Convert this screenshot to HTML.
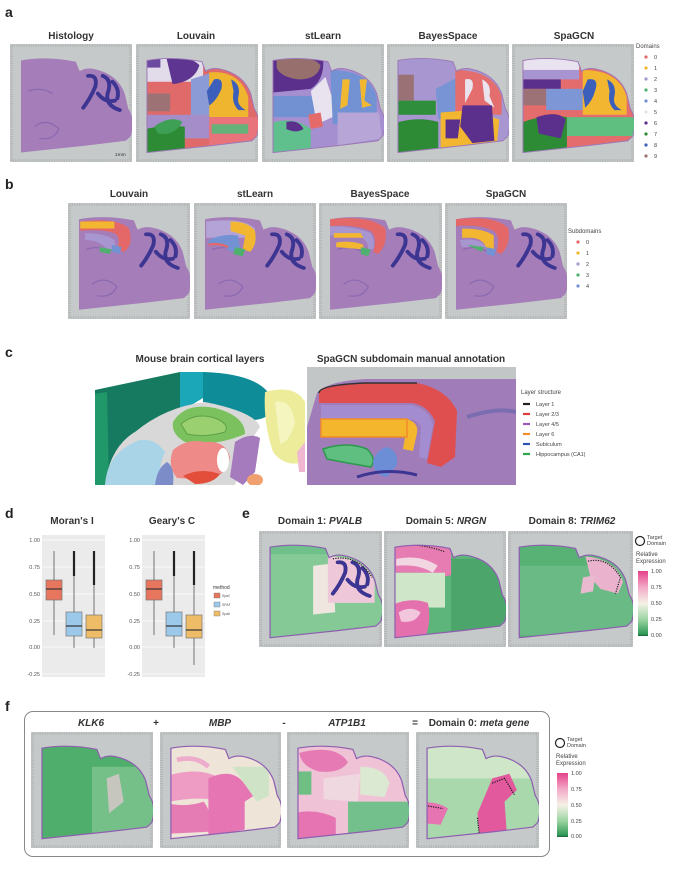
<!DOCTYPE html><html><head><meta charset="utf-8"><style>
body{margin:0;width:673px;height:871px;background:#fff;position:relative;overflow:hidden;font-family:"Liberation Sans",sans-serif;color:#222}
.a{position:absolute}
.L{position:absolute;font-weight:bold;font-size:14px}
.t{position:absolute;font-weight:bold;font-size:10px;transform:translateX(-50%);white-space:nowrap;color:#333}
.s{position:absolute;font-size:5.5px;color:#444;white-space:nowrap}
svg.p{position:absolute}
</style></head><body>
<svg width="0" height="0" style="position:absolute"><defs>
<path id="bp" d="M9 14 Q30 10 54 15 L57 23 Q62 20 68 21 Q88 25 94 42 L97 55 Q103 64 99 78 L95 82 L63 86 L9 92 Z"/>
<clipPath id="br" clipPathUnits="userSpaceOnUse"><use href="#bp"/></clipPath>
<g id="cb" fill="none" stroke="#3d3592" stroke-width="3.2" stroke-linecap="round"><path d="M64 27 Q72 26 70 36 Q66 46 60 54"/><path d="M76 27 Q84 30 80 42 Q78 52 90 56"/><path d="M72 42 Q78 50 86 48"/><path d="M84 32 Q90 38 88 46"/></g>
<g id="cbl" fill="none" stroke="#4a3d9a" stroke-width="1.6" stroke-linecap="round"><path d="M64 27 Q72 26 70 36 Q66 46 60 54"/><path d="M76 27 Q84 30 80 42 Q78 52 90 56"/><path d="M72 42 Q78 50 86 48"/></g>
<g id="bg"><rect width="100" height="100" fill="#c6c9c9"/><rect x="1" y="1" width="98" height="98" fill="none" stroke="#b4b7b7" stroke-width="3" stroke-dasharray="1 1"/></g>
<g id="hist"><use href="#bp" fill="#a47db9"/><path d="M15 40 Q25 36 35 42 M20 70 Q30 62 40 72 Q36 82 24 80" fill="none" stroke="#8a68b0" stroke-width="1"/><use href="#cb"/></g>
</defs></svg>

<!-- a -->
<div class="L" style="left:5px;top:4px">a</div>
<div class="t" style="left:71px;top:31px">Histology</div>
<div class="t" style="left:196px;top:31px">Louvain</div>
<div class="t" style="left:323px;top:31px">stLearn</div>
<div class="t" style="left:448px;top:31px">BayesSpace</div>
<div class="t" style="left:574px;top:31px">SpaGCN</div>

<svg class="p" style="left:10px;top:44px" width="122" height="118" viewBox="0 0 100 100" preserveAspectRatio="none"><use href="#bg"/><use href="#hist"/><text x="86" y="95" font-size="4" fill="#333">1mm</text></svg>

<svg class="p" style="left:136px;top:44px" width="122" height="118" viewBox="0 0 100 100" preserveAspectRatio="none"><use href="#bg"/><g clip-path="url(#br)"><rect width="100" height="100" fill="#e06a6a"/><rect x="0" y="0" width="55" height="32" fill="#e2dcea"/><path d="M25 12 Q45 10 52 18 Q48 32 30 34 Z" fill="#5e3590"/><rect x="0" y="12" width="20" height="8" fill="#6c4aa0"/><rect x="0" y="42" width="28" height="15" fill="#9c7275"/><path d="M45 30 L60 25 L65 70 L45 60 Z" fill="#8b9bd6"/><rect x="0" y="60" width="60" height="20" fill="#a48dc8"/><path d="M0 74 Q20 68 40 70 L40 100 L0 100 Z" fill="#2d8a35"/><path d="M15 70 Q28 60 38 66 Q32 78 18 76Z" fill="#3da055"/><path d="M60 24 Q85 22 92 45 L92 62 L60 62 Z" fill="#f0b52e"/><path d="M64 30 Q72 28 70 38 Q66 48 60 52 L58 40 Z" fill="#3c5fbb"/><path d="M78 30 Q86 34 84 44 Q82 52 90 56 L84 56 Q78 50 80 40Z" fill="#3c5fbb"/><rect x="60" y="62" width="40" height="25" fill="#e8737a"/><rect x="62" y="68" width="30" height="8" fill="#66b07a"/></g><use href="#bp" fill="none" stroke="#9c78b8" stroke-width=".8"/></svg>

<svg class="p" style="left:262px;top:44px" width="122" height="118" viewBox="0 0 100 100" preserveAspectRatio="none"><use href="#bg"/><g clip-path="url(#br)"><rect width="100" height="100" fill="#a68fd0"/><path d="M0 10 L50 10 Q52 30 40 38 L0 42 Z" fill="#5b2f8c"/><path d="M12 12 Q40 8 48 18 Q46 30 30 30 Q15 28 12 20Z" fill="#97706e"/><rect x="0" y="44" width="45" height="18" fill="#7191d2"/><path d="M40 40 L52 28 L62 60 L45 68 Z" fill="#e8e3ee"/><path d="M56 22 Q88 22 94 45 L94 68 L58 68 Z" fill="#7292d4"/><path d="M66 30 L72 30 L70 52 L64 55Z M80 30 L86 30 L84 48 L90 52 L82 54 Z" fill="#f2b831"/><path d="M62 58 L96 58 L98 80 L62 86Z" fill="#b7a5d8"/><path d="M38 60 L48 58 L50 70 L40 72Z" fill="#e56a6a"/><path d="M5 68 Q25 60 40 72 L40 100 L0 100 Z" fill="#5fc08e"/><path d="M20 66 Q30 64 34 72 Q28 76 20 72Z" fill="#5b2f8c"/><rect x="0" y="60" width="8" height="40" fill="#2c8a34"/></g><use href="#bp" fill="none" stroke="#9c78b8" stroke-width=".8"/></svg>

<svg class="p" style="left:387px;top:44px" width="122" height="118" viewBox="0 0 100 100" preserveAspectRatio="none"><use href="#bg"/><g clip-path="url(#br)"><rect width="100" height="100" fill="#a896d0"/><rect x="0" y="26" width="22" height="22" fill="#9a7276"/><rect x="0" y="48" width="40" height="12" fill="#2f8e3c"/><path d="M40 38 L58 28 L60 60 L42 64Z" fill="#7894d4"/><path d="M56 22 Q88 22 94 45 L94 60 L56 60Z" fill="#e46d6d"/><path d="M64 30 Q72 28 70 38 L64 50 Z M78 30 Q86 34 84 44 L88 54 L80 48 Z" fill="#e9e4ee"/><path d="M0 70 Q20 60 42 66 L42 100 L0 100Z" fill="#2d8a35"/><path d="M44 58 L70 56 L92 64 L90 86 L44 90Z" fill="#f2b631"/><path d="M62 52 L86 52 L88 82 L70 84 L60 70Z" fill="#5b2f8c"/><path d="M48 64 L60 64 L58 80 L48 80Z" fill="#5b2f8c"/></g><use href="#bp" fill="none" stroke="#9c78b8" stroke-width=".8"/></svg>

<svg class="p" style="left:512px;top:44px" width="122" height="118" viewBox="0 0 100 100" preserveAspectRatio="none"><use href="#bg"/><g clip-path="url(#br)"><rect width="100" height="100" fill="#e56c6c"/><rect x="0" y="0" width="55" height="22" fill="#e8e3ee"/><rect x="0" y="22" width="55" height="8" fill="#a894d0"/><rect x="0" y="30" width="40" height="8" fill="#5b2f8c"/><rect x="0" y="38" width="28" height="14" fill="#9c7276"/><rect x="28" y="38" width="30" height="18" fill="#7c96d6"/><path d="M58 22 Q88 22 94 45 L94 60 L58 60Z" fill="#f2b631"/><path d="M62 30 Q72 28 68 40 Q66 48 60 54 L58 40Z M78 30 Q86 34 84 44 Q82 52 90 56 L84 56 Q78 50 80 40Z" fill="#3c5fbb"/><rect x="45" y="62" width="55" height="16" fill="#5fbf80"/><path d="M0 70 Q25 58 45 62 L45 100 L0 100Z" fill="#2d8a35"/><path d="M20 62 Q38 56 44 64 L40 80 L22 76Z" fill="#5b2f8c"/></g><use href="#bp" fill="none" stroke="#9c78b8" stroke-width=".8"/></svg>

<div class="s" style="left:636px;top:44px;font-size:6px">Domains</div>
<svg class="a" style="left:642px;top:53px" width="25" height="110">
<g font-size="5.5" fill="#444" font-family="Liberation Sans">
<circle cx="4" cy="4" r="1.6" fill="#e46868"/><text x="12" y="6">0</text>
<circle cx="4" cy="15" r="1.6" fill="#f2b631"/><text x="12" y="17">1</text>
<circle cx="4" cy="26" r="1.6" fill="#a896d0"/><text x="12" y="28">2</text>
<circle cx="4" cy="37" r="1.6" fill="#4fb070"/><text x="12" y="39">3</text>
<circle cx="4" cy="48" r="1.6" fill="#7292d4"/><text x="12" y="50">4</text>
<circle cx="4" cy="59" r="1.6" fill="#e6e1ec"/><text x="12" y="61">5</text>
<circle cx="4" cy="70" r="1.6" fill="#5b2f8c"/><text x="12" y="72">6</text>
<circle cx="4" cy="81" r="1.6" fill="#2d8a35"/><text x="12" y="83">7</text>
<circle cx="4" cy="92" r="1.6" fill="#3c5fbb"/><text x="12" y="94">8</text>
<circle cx="4" cy="103" r="1.6" fill="#9c7276"/><text x="12" y="105">9</text></g></svg>

<!-- b -->
<div class="L" style="left:5px;top:176px">b</div>
<div class="t" style="left:129px;top:189px">Louvain</div>
<div class="t" style="left:255px;top:189px">stLearn</div>
<div class="t" style="left:380px;top:189px">BayesSpace</div>
<div class="t" style="left:506px;top:189px">SpaGCN</div>
<svg class="p" style="left:68px;top:203px" width="122" height="116" viewBox="0 0 100 100" preserveAspectRatio="none"><use href="#bg"/><use href="#hist"/><path d="M10 16 Q40 12 50 22 Q54 36 46 42 L40 40 Q44 30 38 26 Q26 22 10 24Z" fill="#e46868"/><path d="M10 16 L38 16 L38 22 L10 22Z" fill="#f2b631"/><path d="M14 26 Q30 26 38 32 L40 42 L32 40 Q26 32 14 32Z" fill="#a896d0"/><path d="M26 38 L36 40 L34 44 L26 42Z" fill="#4fb070"/><path d="M36 36 L44 38 L42 44 L36 42Z" fill="#7292d4"/></svg>
<svg class="p" style="left:194px;top:203px" width="122" height="116" viewBox="0 0 100 100" preserveAspectRatio="none"><use href="#bg"/><use href="#hist"/><path d="M10 16 Q40 12 50 22 L50 30 L10 30Z" fill="#b3a3d6"/><path d="M30 16 Q44 16 50 24 Q52 36 46 42 L40 40 L42 28 L30 24Z" fill="#f2b631"/><path d="M12 32 Q24 26 36 28 L38 40 L30 42 Q22 34 12 36Z" fill="#7292d4"/><path d="M12 36 Q20 34 28 38" stroke="#e46868" stroke-width="2" fill="none"/><path d="M34 38 L42 40 L40 46 L32 44Z" fill="#4fb070"/></svg>
<svg class="p" style="left:319px;top:203px" width="123" height="116" viewBox="0 0 100 100" preserveAspectRatio="none"><use href="#bg"/><use href="#hist"/><path d="M9 14 Q42 10 54 22 Q56 36 48 44 L44 42 Q48 30 42 24 Q28 18 9 20Z" fill="#e46868"/><path d="M9 20 Q30 20 42 26 Q46 32 44 40 L40 40 Q40 30 30 28 L9 28Z" fill="#a896d0"/><path d="M12 26 L34 26 L36 30 L12 30Z M14 34 Q26 32 36 36 L36 40 L14 38Z" fill="#f2b631"/><path d="M34 38 L42 40 L40 46 L34 44Z" fill="#4fb070"/></svg>
<svg class="p" style="left:445px;top:203px" width="122" height="116" viewBox="0 0 100 100" preserveAspectRatio="none"><use href="#bg"/><use href="#hist"/><path d="M9 14 Q42 10 52 22 Q54 36 46 44 L42 42 Q46 30 40 24 Q28 18 9 20Z" fill="#e46868"/><path d="M14 22 Q32 22 40 28 L40 40 L34 40 Q32 30 20 30 L14 30Z" fill="#f2b631"/><path d="M12 32 Q22 30 30 34 L34 38 L14 38Z" fill="#a896d0"/><path d="M18 36 L32 38 L30 42 Z" fill="#4fb070"/><path d="M34 38 L42 40 L40 46 L34 44Z" fill="#7292d4"/></svg>
<div class="s" style="left:568px;top:229px;font-size:6px">Subdomains</div>
<svg class="a" style="left:574px;top:238px" width="25" height="55"><g font-size="5.5" fill="#444" font-family="Liberation Sans">
<circle cx="4" cy="4" r="1.6" fill="#e46868"/><text x="12" y="6">0</text>
<circle cx="4" cy="15" r="1.6" fill="#f2b631"/><text x="12" y="17">1</text>
<circle cx="4" cy="26" r="1.6" fill="#a896d0"/><text x="12" y="28">2</text>
<circle cx="4" cy="37" r="1.6" fill="#4fb070"/><text x="12" y="39">3</text>
<circle cx="4" cy="48" r="1.6" fill="#7292d4"/><text x="12" y="50">4</text></g></svg>

<!-- c -->
<div class="L" style="left:5px;top:344px">c</div>
<div class="t" style="left:200px;top:354px">Mouse brain cortical layers</div>
<div class="t" style="left:411px;top:354px">SpaGCN subdomain manual annotation</div>
<svg class="p" style="left:95px;top:372px" width="210" height="113" viewBox="0 0 210 113">
<rect width="210" height="113" fill="#fff"/>
<path d="M0 18 L85 0 L85 40 L40 60 Q15 75 10 113 L0 113Z" fill="#167a60"/>
<path d="M0 22 L12 20 L14 113 L0 113Z" fill="#21986a"/>
<path d="M85 0 L108 0 L108 26 L85 40Z" fill="#1ba7b8"/>
<path d="M108 0 Q170 2 178 30 Q178 50 150 48 L108 30Z" fill="#0e8c98"/>
<path d="M40 60 Q70 35 110 30 Q160 40 165 55 Q150 75 140 113 L10 113 Q15 75 40 60Z" fill="#d8d8d8"/>
<path d="M10 113 Q12 80 45 68 Q60 66 70 80 Q60 100 72 113Z" fill="#a9d3e6"/>
<path d="M78 50 Q90 30 120 36 Q150 44 150 62 Q120 75 90 70 Q76 62 78 50Z" fill="#7bc25e"/>
<path d="M86 52 Q100 40 120 46 Q135 52 130 60 Q110 66 92 62Z" fill="#9ad070" stroke="#5da048" stroke-width="1"/>
<path d="M78 78 Q92 66 110 70 Q130 68 135 85 Q132 105 110 108 L82 106 Q72 94 78 78Z" fill="#ee8a88"/>
<path d="M88 104 Q105 95 125 102 Q118 112 100 112Z" fill="#e24e3a"/>
<path d="M72 90 Q80 95 78 113 L60 113 Q62 96 72 90Z" fill="#7b8cc8"/>
<path d="M140 70 Q155 60 165 66 L160 100 L148 113 L135 105Z" fill="#a67bbd"/>
<path d="M170 20 Q200 12 210 30 L210 90 Q190 96 178 80 Q168 50 170 20Z" fill="#ecec9a"/>
<path d="M180 30 Q196 26 200 50 Q195 70 185 72Z" fill="#f5f5c0"/>
<path d="M202 80 L210 70 L210 100 L204 100Z" fill="#f0b8d0"/>
<ellipse cx="160" cy="108" rx="8" ry="6" fill="#f1a070"/>
<ellipse cx="128" cy="88" rx="6" ry="12" fill="#fff"/>
</svg>
<svg class="p" style="left:307px;top:367px" width="209" height="118" viewBox="0 0 209 118">
<rect width="209" height="118" fill="#c3c6c6"/>
<path d="M10 26 Q20 14 60 12 L209 12 L209 118 L0 118 L0 60 Z" fill="#a07cb8"/>
<path d="M160 50 Q190 40 209 45" fill="none" stroke="#7a6db0" stroke-width="4"/>
<path d="M100 40 L140 36 L160 50 Q158 80 145 95 L140 118" fill="none" stroke="#d24d54" stroke-width="0"/>
<path d="M12 26 Q12 18 58 16 L110 16 Q140 22 150 44 L148 90 L134 100 L120 96 L128 54 Q120 38 105 36 L12 36Z" fill="#e04f50"/>
<path d="M14 38 L104 38 Q122 42 126 58 L120 92 L112 90 L114 60 Q110 52 100 52 L14 52Z" fill="#a48cd0"/>
<path d="M14 52 L100 52 Q112 56 110 66 L106 84 L96 82 L98 70 L14 70Z" fill="#f3b62d"/>
<path d="M14 52 L100 52 L100 70 L14 70Z" fill="none" stroke="#f28c2c" stroke-width="1.5"/>
<path d="M16 82 Q40 74 60 82 Q70 92 64 100 Q40 96 20 92Z" fill="#5fbf80" stroke="#2c9a4d" stroke-width="1.5"/>
<path d="M66 94 Q70 82 80 80 Q92 84 90 98 L80 110 Q66 108 66 94Z" fill="#6c8ed6"/>
<path d="M12 26 Q12 18 58 16 L110 16" fill="none" stroke="#333" stroke-width="1.5"/>
<path d="M50 110 Q80 100 110 108" fill="none" stroke="#3d3592" stroke-width="3"/>
</svg>
<div class="s" style="left:521px;top:390px;font-size:6px">Layer structure</div>
<svg class="a" style="left:522px;top:399px" width="80" height="62"><g font-size="5.5" fill="#444" font-family="Liberation Sans" stroke-width="2.2">
<line x1="1" y1="5" x2="8" y2="5" stroke="#222"/><text x="14" y="7">Layer 1</text>
<line x1="1" y1="15" x2="8" y2="15" stroke="#e13a3a"/><text x="14" y="17">Layer 2/3</text>
<line x1="1" y1="25" x2="8" y2="25" stroke="#9b59c0"/><text x="14" y="27">Layer 4/5</text>
<line x1="1" y1="35" x2="8" y2="35" stroke="#f28c2c"/><text x="14" y="37">Layer 6</text>
<line x1="1" y1="45" x2="8" y2="45" stroke="#2e52b8"/><text x="14" y="47">Subiculum</text>
<line x1="1" y1="55" x2="8" y2="55" stroke="#2aa84a"/><text x="14" y="57">Hippocampus (CA1)</text></g></svg>

<!-- d -->
<div class="L" style="left:5px;top:505px">d</div>
<div class="t" style="left:72px;top:516px">Moran's I</div>
<div class="t" style="left:172px;top:516px">Geary's C</div>
<svg class="a" style="left:20px;top:530px" width="210" height="150"><g font-family="Liberation Sans" font-size="5.5" fill="#555">
<rect x="22" y="5" width="63" height="142" fill="#ebebeb"/>
<rect x="122" y="5" width="63" height="142" fill="#ebebeb"/>
<g stroke="#fff" stroke-width=".8"><line x1="22" y1="10" x2="85" y2="10"/><line x1="22" y1="37" x2="85" y2="37"/><line x1="22" y1="64" x2="85" y2="64"/><line x1="22" y1="91" x2="85" y2="91"/><line x1="22" y1="117" x2="85" y2="117"/><line x1="22" y1="144" x2="85" y2="144"/>
<line x1="122" y1="10" x2="185" y2="10"/><line x1="122" y1="37" x2="185" y2="37"/><line x1="122" y1="64" x2="185" y2="64"/><line x1="122" y1="91" x2="185" y2="91"/><line x1="122" y1="117" x2="185" y2="117"/><line x1="122" y1="144" x2="185" y2="144"/></g>
<text x="20" y="12" text-anchor="end">1.00</text><text x="20" y="39" text-anchor="end">0.75</text><text x="20" y="66" text-anchor="end">0.50</text><text x="20" y="93" text-anchor="end">0.25</text><text x="20" y="119" text-anchor="end">0.00</text><text x="20" y="146" text-anchor="end">-0.25</text>
<text x="120" y="12" text-anchor="end">1.00</text><text x="120" y="39" text-anchor="end">0.75</text><text x="120" y="66" text-anchor="end">0.50</text><text x="120" y="93" text-anchor="end">0.25</text><text x="120" y="119" text-anchor="end">0.00</text><text x="120" y="146" text-anchor="end">-0.25</text>
<g stroke="#555" stroke-width=".8"><line x1="34" y1="21" x2="34" y2="105"/><line x1="54" y1="21" x2="54" y2="118"/><line x1="74" y1="21" x2="74" y2="118"/><line x1="134" y1="21" x2="134" y2="105"/><line x1="154" y1="21" x2="154" y2="118"/><line x1="174" y1="21" x2="174" y2="135"/></g>
<g stroke="#222" stroke-width="2.2"><line x1="54" y1="21" x2="54" y2="46"/><line x1="74" y1="21" x2="74" y2="55"/><line x1="154" y1="21" x2="154" y2="46"/><line x1="174" y1="21" x2="174" y2="55"/></g>
<g stroke="#777" stroke-width=".7">
<rect x="26" y="50" width="16" height="20" fill="#e8765e"/><line x1="26" y1="59" x2="42" y2="59" stroke="#333" stroke-width="1.2"/>
<rect x="46" y="82" width="16" height="24" fill="#9cc8ea"/><line x1="46" y1="96" x2="62" y2="96" stroke="#333" stroke-width="1.2"/>
<rect x="66" y="85" width="16" height="23" fill="#eebb66"/><line x1="66" y1="100" x2="82" y2="100" stroke="#333" stroke-width="1.2"/>
<rect x="126" y="50" width="16" height="20" fill="#e8765e"/><line x1="126" y1="59" x2="142" y2="59" stroke="#333" stroke-width="1.2"/>
<rect x="146" y="82" width="16" height="24" fill="#9cc8ea"/><line x1="146" y1="96" x2="162" y2="96" stroke="#333" stroke-width="1.2"/>
<rect x="166" y="85" width="16" height="23" fill="#eebb66"/><line x1="166" y1="100" x2="182" y2="100" stroke="#333" stroke-width="1.2"/></g>
<text x="193" y="59" fill="#333" font-size="5">method</text>
<rect x="194" y="63" width="6" height="5" fill="#e8765e" stroke="#777" stroke-width=".4"/><text x="202" y="67" font-size="3.5">SpaGCN</text>
<rect x="194" y="72" width="6" height="5" fill="#9cc8ea" stroke="#777" stroke-width=".4"/><text x="202" y="76" font-size="3.5">SPARK</text>
<rect x="194" y="81" width="6" height="5" fill="#eebb66" stroke="#777" stroke-width=".4"/><text x="202" y="85" font-size="3.5">SpatialDE</text>
</g></svg>

<!-- e -->
<div class="L" style="left:242px;top:505px">e</div>
<div class="t" style="left:320px;top:516px">Domain 1: <i>PVALB</i></div>
<div class="t" style="left:446px;top:516px">Domain 5: <i>NRGN</i></div>
<div class="t" style="left:572px;top:516px">Domain 8: <i>TRIM62</i></div>
<svg class="p" style="left:259px;top:531px" width="123" height="116" viewBox="0 0 100 100" preserveAspectRatio="none"><use href="#bg"/><g clip-path="url(#br)"><rect width="100" height="100" fill="#6fc08a"/><rect x="0" y="20" width="100" height="80" fill="#93cf9f" opacity=".6"/><path d="M44 30 L60 28 L62 70 L44 72Z" fill="#efe6df"/><path d="M56 22 Q88 22 94 45 L94 62 L56 62Z" fill="#eec8d8"/><use href="#cb" style="stroke:#d94f93"/><path d="M60 24 Q80 20 92 40" fill="none" stroke="#222" stroke-width="1" stroke-dasharray="1 1"/></g><use href="#bp" fill="none" stroke="#8e5eb0" stroke-width="1"/></svg>
<svg class="p" style="left:384px;top:531px" width="122" height="116" viewBox="0 0 100 100" preserveAspectRatio="none"><use href="#bg"/><g clip-path="url(#br)"><rect width="100" height="100" fill="#5db57b"/><path d="M0 10 L55 10 L55 38 Q40 42 30 36 L0 36Z" fill="#e67cb2"/><path d="M10 24 Q30 20 44 30 L40 36 Q28 28 10 30Z" fill="#f2d6e2"/><path d="M5 12 Q30 10 50 18" fill="none" stroke="#222" stroke-width="1" stroke-dasharray="1 1"/><rect x="0" y="36" width="50" height="30" fill="#cfe6c9"/><path d="M2 66 Q20 56 36 62 Q40 82 30 100 L0 100Z" fill="#e570ae"/><path d="M12 70 Q22 64 30 70 Q26 80 14 78Z" fill="#f2c6dc"/><rect x="55" y="24" width="45" height="70" fill="#4ca66c"/></g><use href="#bp" fill="none" stroke="#8e5eb0" stroke-width="1"/></svg>
<svg class="p" style="left:508px;top:531px" width="125" height="116" viewBox="0 0 100 100" preserveAspectRatio="none"><use href="#bg"/><g clip-path="url(#br)"><rect width="100" height="100" fill="#58b275"/><rect x="0" y="30" width="100" height="60" fill="#74c08e" opacity=".6"/><path d="M62 22 Q86 24 92 44 L88 54 L74 50 L66 40 Z" fill="#eab2cc"/><path d="M60 40 L70 38 L68 52 L58 54Z" fill="#e9b9cf"/><path d="M64 26 Q80 22 90 40 L86 54" fill="none" stroke="#222" stroke-width="1" stroke-dasharray="1 1"/></g><use href="#bp" fill="none" stroke="#8e5eb0" stroke-width="1"/></svg>
<svg class="a" style="left:634px;top:535px" width="12" height="12"><circle cx="6" cy="6" r="4.5" fill="none" stroke="#222" stroke-width="1.2"/></svg>
<div class="s" style="left:647px;top:535px;line-height:6px">Target<br>Domain</div>
<div class="s" style="left:636px;top:552px;line-height:7px;font-size:6px">Relative<br>Expression</div>
<div class="a" style="left:638px;top:571px;width:10px;height:65px;background:linear-gradient(#e5428a,#f3a9c8 25%,#f5f1e6 50%,#9bd4a2 75%,#2e9a57 97%,#1f5e3a)"></div>
<div class="s" style="left:651px;top:569px">1.00</div><div class="s" style="left:651px;top:585px">0.75</div><div class="s" style="left:651px;top:601px">0.50</div><div class="s" style="left:651px;top:617px">0.25</div><div class="s" style="left:651px;top:633px">0.00</div>

<!-- f -->
<div class="L" style="left:5px;top:698px">f</div>
<div class="a" style="left:24px;top:711px;width:524px;height:144px;border:1px solid #888;border-radius:9px"></div>
<div class="t" style="left:91px;top:718px"><i>KLK6</i></div>
<div class="t" style="left:156px;top:718px">+</div>
<div class="t" style="left:220px;top:718px"><i>MBP</i></div>
<div class="t" style="left:284px;top:718px">-</div>
<div class="t" style="left:347px;top:718px"><i>ATP1B1</i></div>
<div class="t" style="left:415px;top:718px">=</div>
<div class="t" style="left:479px;top:718px">Domain 0: <i>meta gene</i></div>
<svg class="p" style="left:31px;top:732px" width="122" height="116" viewBox="0 0 100 100" preserveAspectRatio="none"><use href="#bg"/><g clip-path="url(#br)"><rect width="100" height="100" fill="#4fae6c"/><rect x="50" y="30" width="50" height="60" fill="#86c894" opacity=".7"/><path d="M62 40 L72 36 L76 60 L64 70Z" fill="#e9c9d6" opacity=".7"/></g><use href="#bp" fill="none" stroke="#8e5eb0" stroke-width="1"/></svg>
<svg class="p" style="left:160px;top:732px" width="121" height="116" viewBox="0 0 100 100" preserveAspectRatio="none"><use href="#bg"/><g clip-path="url(#br)"><rect width="100" height="100" fill="#efe4d8"/><path d="M0 40 Q30 28 50 40 L52 60 Q30 54 0 62Z" fill="#ee9cc4"/><path d="M0 60 Q20 66 36 60 Q44 70 40 86 L0 88Z" fill="#e57cb4"/><path d="M40 40 Q60 30 70 45 L80 40 L82 52 L70 60 L70 84 L40 90Z" fill="#e676b3"/><path d="M14 24 Q30 20 40 30" fill="none" stroke="#eeaccc" stroke-width="4"/><path d="M60 30 L90 30 L90 55 L80 60Z" fill="#cfe4c6"/></g><use href="#bp" fill="none" stroke="#8e5eb0" stroke-width="1"/></svg>
<svg class="p" style="left:287px;top:732px" width="122" height="116" viewBox="0 0 100 100" preserveAspectRatio="none"><use href="#bg"/><g clip-path="url(#br)"><rect width="100" height="100" fill="#f0c2d6"/><path d="M10 18 Q40 10 50 26 Q44 36 26 34 Q12 30 10 18Z" fill="#e57ab4"/><rect x="0" y="34" width="20" height="20" fill="#6fbf85"/><path d="M30 40 L60 36 L58 60 L30 58Z" fill="#efd8e0"/><path d="M50 60 L100 60 L100 90 L50 92Z" fill="#73c08c"/><path d="M0 72 Q20 64 40 74 L40 100 L0 100Z" fill="#e674b2"/><path d="M60 30 Q80 30 84 44 L80 56 L60 54Z" fill="#dbe8d2"/></g><use href="#bp" fill="none" stroke="#8e5eb0" stroke-width="1"/></svg>
<svg class="p" style="left:416px;top:732px" width="123" height="116" viewBox="0 0 100 100" preserveAspectRatio="none"><use href="#bg"/><g clip-path="url(#br)"><rect width="100" height="100" fill="#a9d8ad"/><rect x="0" y="10" width="100" height="30" fill="#cfe6c8"/><path d="M0 62 Q15 58 26 66 L20 80 L0 78Z" fill="#e674b2"/><path d="M50 70 L62 40 L76 36 L82 50 L72 60 L74 90 L52 94Z" fill="#e2599e"/><path d="M62 44 L72 40 L80 54" fill="none" stroke="#111" stroke-width="1" stroke-dasharray="1 1"/><path d="M50 74 L52 94 M0 62 L22 66" fill="none" stroke="#111" stroke-width="1" stroke-dasharray="1 1"/></g><use href="#bp" fill="none" stroke="#8e5eb0" stroke-width="1"/></svg>
<svg class="a" style="left:554px;top:737px" width="12" height="12"><circle cx="6" cy="6" r="4.5" fill="none" stroke="#222" stroke-width="1.2"/></svg>
<div class="s" style="left:567px;top:737px;line-height:6px">Target<br>Domain</div>
<div class="s" style="left:556px;top:754px;line-height:7px;font-size:6px">Relative<br>Expression</div>
<div class="a" style="left:557px;top:773px;width:11px;height:64px;background:linear-gradient(#e5428a,#f3a9c8 25%,#f5f1e6 50%,#9bd4a2 75%,#2e9a57 97%,#1f5e3a)"></div>
<div class="s" style="left:571px;top:771px">1.00</div><div class="s" style="left:571px;top:787px">0.75</div><div class="s" style="left:571px;top:803px">0.50</div><div class="s" style="left:571px;top:819px">0.25</div><div class="s" style="left:571px;top:834px">0.00</div>
</body></html>
